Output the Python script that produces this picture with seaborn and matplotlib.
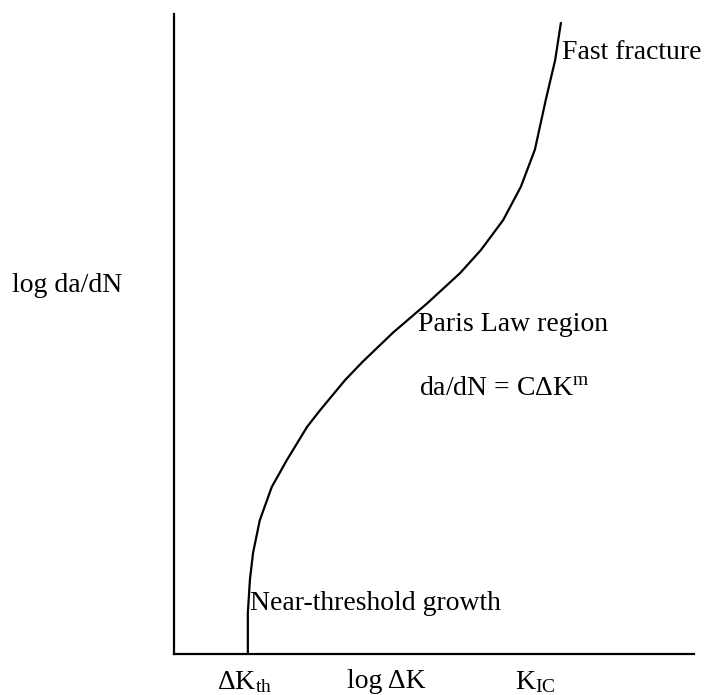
import matplotlib
matplotlib.use("Agg")
import matplotlib.pyplot as plt
import seaborn as sns
import pandas as pd

# Schematic fatigue crack growth curve (arbitrary log units, 0-100)
log_dK = [14.2, 14.2, 14.6, 15.2, 16.5, 18.8, 21.7, 25.6, 28.1, 32.9, 36.2,
          42.1, 48.7, 55.0, 59.0, 63.3, 66.7, 69.4, 71.5, 73.3, 74.4]
log_dadN = [0.0, 6.4, 11.6, 15.8, 20.9, 26.1, 30.3, 35.5, 38.1, 42.8, 45.6,
            50.2, 54.8, 59.5, 63.1, 67.8, 73.0, 78.8, 86.6, 92.8, 98.6]

tick_pos = [13.5, 40.8, 69.4]
tick_labels = ["ΔK$_{\\mathrm{th}}$", "log ΔK", "K$_{\\mathrm{IC}}$"]

region_labels = ["Fast fracture", "Paris Law region",
                 "da/dN = CΔK$^{\\mathrm{m}}$", "Near-threshold growth"]
region_xy = [(74.6, 93.0), (46.9, 50.5), (47.2, 40.5), (14.6, 6.9)]

sns.set_style("white")
plt.rcParams["font.family"] = ["Liberation Serif", "DejaVu Serif"]
plt.rcParams["mathtext.fontset"] = "custom"
plt.rcParams["mathtext.rm"] = "Liberation Serif"
plt.rcParams["mathtext.it"] = "Liberation Serif:italic"
plt.rcParams["mathtext.bf"] = "Liberation Serif:bold"

fig = plt.figure(figsize=(7.11, 6.95), dpi=100)
ax = fig.add_axes([174 / 711, 1 - 654 / 695, 520 / 711, 640 / 695])

df = pd.DataFrame({"x": log_dK, "y": log_dadN})
sns.lineplot(data=df, x="x", y="y", sort=False, estimator=None,
             color="black", linewidth=1.6, ax=ax)

ax.set_xlim(0, 100)
ax.set_ylim(0, 100)
for side in ("top", "right"):
    ax.spines[side].set_visible(False)
for side in ("left", "bottom"):
    ax.spines[side].set_color("black")
    ax.spines[side].set_linewidth(1.6)

ax.set_xticks(tick_pos)
ax.set_xticklabels(tick_labels, fontsize=20)
ax.tick_params(axis="x", length=0, pad=11, colors="black")
ax.set_yticks([])
ax.set_xlabel("")
ax.set_ylabel("")

for txt, (tx, ty) in zip(region_labels, region_xy):
    ax.text(tx, ty, txt, fontsize=20, ha="left", va="baseline", color="black")

fig.text(12 / 711, 1 - 292 / 695, "log da/dN", fontsize=20,
         ha="left", va="baseline", color="black")

fig.savefig("out.png", dpi=100, facecolor="white")
